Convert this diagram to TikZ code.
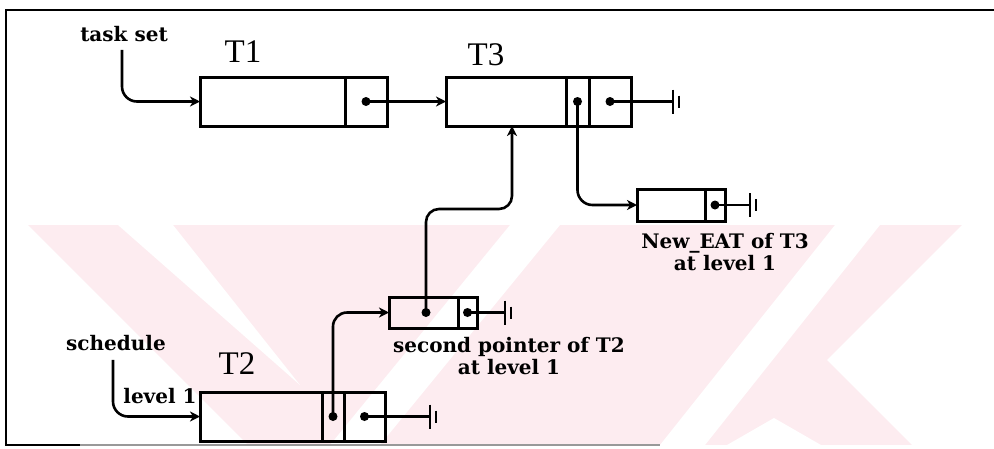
\documentclass[tikz,border=0pt]{standalone}
\usepackage{fontspec}
\setmainfont{Liberation Serif}
\newfontfamily\lblfont{DejaVu Serif}
\usetikzlibrary{arrows.meta}
\definecolor{wm}{RGB}{253,236,240}
\begin{document}
\begin{tikzpicture}[x=1pt,y=-1pt,
  box/.style={draw, line width=3pt, inner sep=0pt, outer sep=0pt, minimum height=49pt},
  sbox/.style={box, minimum height=31pt},
  dot/.style={circle, fill, inner sep=0pt, minimum size=9pt},
  ln/.style={line width=2.6pt},
  arr/.style={ln, -{Stealth[length=10pt,width=10pt,inset=3pt]}},
  lbl/.style={font=\lblfont\bfseries\fontsize{20}{22}\selectfont, inner sep=0pt},
  tname/.style={font=\fontsize{33}{36}\selectfont, inner sep=0pt},
  nilend/.pic={\draw[line width=2.2pt] (0,-12) -- (0,12); \draw[line width=1.8pt] (6,-6) -- (6,6);}
]
\useasboundingbox (0,0) rectangle (994,448);
\fill[white] (0,0) rectangle (994,448);
% faint watermark
\fill[wm] (6,225) rectangle (994,445);
\fill[white] (6,225) -- (28,225) -- (248,445) -- (6,445) -- cycle;
\fill[white] (118,225) -- (173,225) -- (300,385) -- cycle;
\fill[white] (510,225) -- (560,225) -- (380,445) -- (330,445) -- cycle;
\fill[white] (835,225) -- (880,225) -- (705,445) -- (660,445) -- cycle;
\fill[white] (962,225) -- (994,225) -- (994,445) -- (912,445) -- (827,360) -- cycle;
\fill[white] (727,445) -- (774,418) -- (821,445) -- cycle;
% frame
\draw[line width=2.8pt] (994,10) -- (6,10) -- (6,445) -- (80,445);
\draw[line width=1.4pt, black!40] (80,445) -- (660,445);

% boxes
\node[box, minimum width=145pt] (T1m) at (272.5,101.5) {};
\node[box, minimum width=42pt] (T1c) at (366,101.5) {};
\node[box, minimum width=120pt] (T3m) at (506,101.5) {};
\node[box, minimum width=23pt] (T3a) at (577.5,101.5) {};
\node[box, minimum width=42pt] (T3b) at (610,101.5) {};
\node[box, minimum width=68pt, minimum height=32pt] (Nm) at (671,205) {};
\node[box, minimum width=20pt, minimum height=32pt] (Nc) at (715,205) {};
\node[sbox, minimum width=69pt] (Sm) at (423.5,312.5) {};
\node[sbox, minimum width=19pt] (Sc) at (467.5,312.5) {};
\node[box, minimum width=122pt] (T2m) at (261,416.5) {};
\node[box, minimum width=22pt] (T2a) at (333,416.5) {};
\node[box, minimum width=41pt] (T2b) at (364.5,416.5) {};

% dots
\node[dot] (d1) at (T1c.center) {};
\node[dot] (d3a) at (T3a.center) {};
\node[dot] (d3b) at (T3b.center) {};
\node[dot] (dn) at (Nc.center) {};
\node[dot] (dsa) at (426,312.5) {};
\node[dot] (dsb) at (Sc.center) {};
\node[dot] (d2a) at (T2a.center) {};
\node[dot] (d2b) at (T2b.center) {};

% labels
\node[lbl] (ts) at (124,34) {task set};
\node[tname] (t1l) at (243,52) {T1};
\node[tname] (t3l) at (486,55) {T3};
\node[tname] (t2l) at (237,364) {T2};
\node[lbl] (sch) at (116,343) {schedule};
\node[lbl] (lv) at (160,396) {level 1};
\node[lbl, align=center] (nl) at (725,252) {New\_EAT of T3\\at level 1};
\node[lbl, align=center] (sl) at (509,356) {second pointer of T2\\at level 1};

% terminators
\coordinate (e3) at (673,101.5);
\coordinate (eN) at (750,205);
\coordinate (eS) at (505,312.5);
\coordinate (e2) at (430,416.5);
\draw[ln] (d3b.center) -- (e3); \pic at (e3) {nilend};
\draw[ln] (dn.center) -- (eN); \pic at (eN) {nilend};
\draw[ln] (dsb.center) -- (eS); \pic at (eS) {nilend};
\draw[ln] (d2b.center) -- (e2); \pic at (e2) {nilend};

% connectors
\draw[arr, rounded corners=15pt] ([xshift=-2pt,yshift=-8pt]ts.south) |- (T1m.west);
\draw[arr] (d1.center) -- (T3m.west);
\draw[arr, rounded corners=15pt] (d3a.center) |- (Nm.west);
\coordinate (bend) at (512,209);
\draw[arr, rounded corners=13pt] (dsa.center) |- (bend) -- (bend |- T3m.south);
\draw[arr, rounded corners=14pt] (d2a.center) |- (Sm.west);
\draw[arr, rounded corners=15pt] ([xshift=-3pt,yshift=-9pt]sch.south) |- (T2m.west);
\end{tikzpicture}
\end{document}
